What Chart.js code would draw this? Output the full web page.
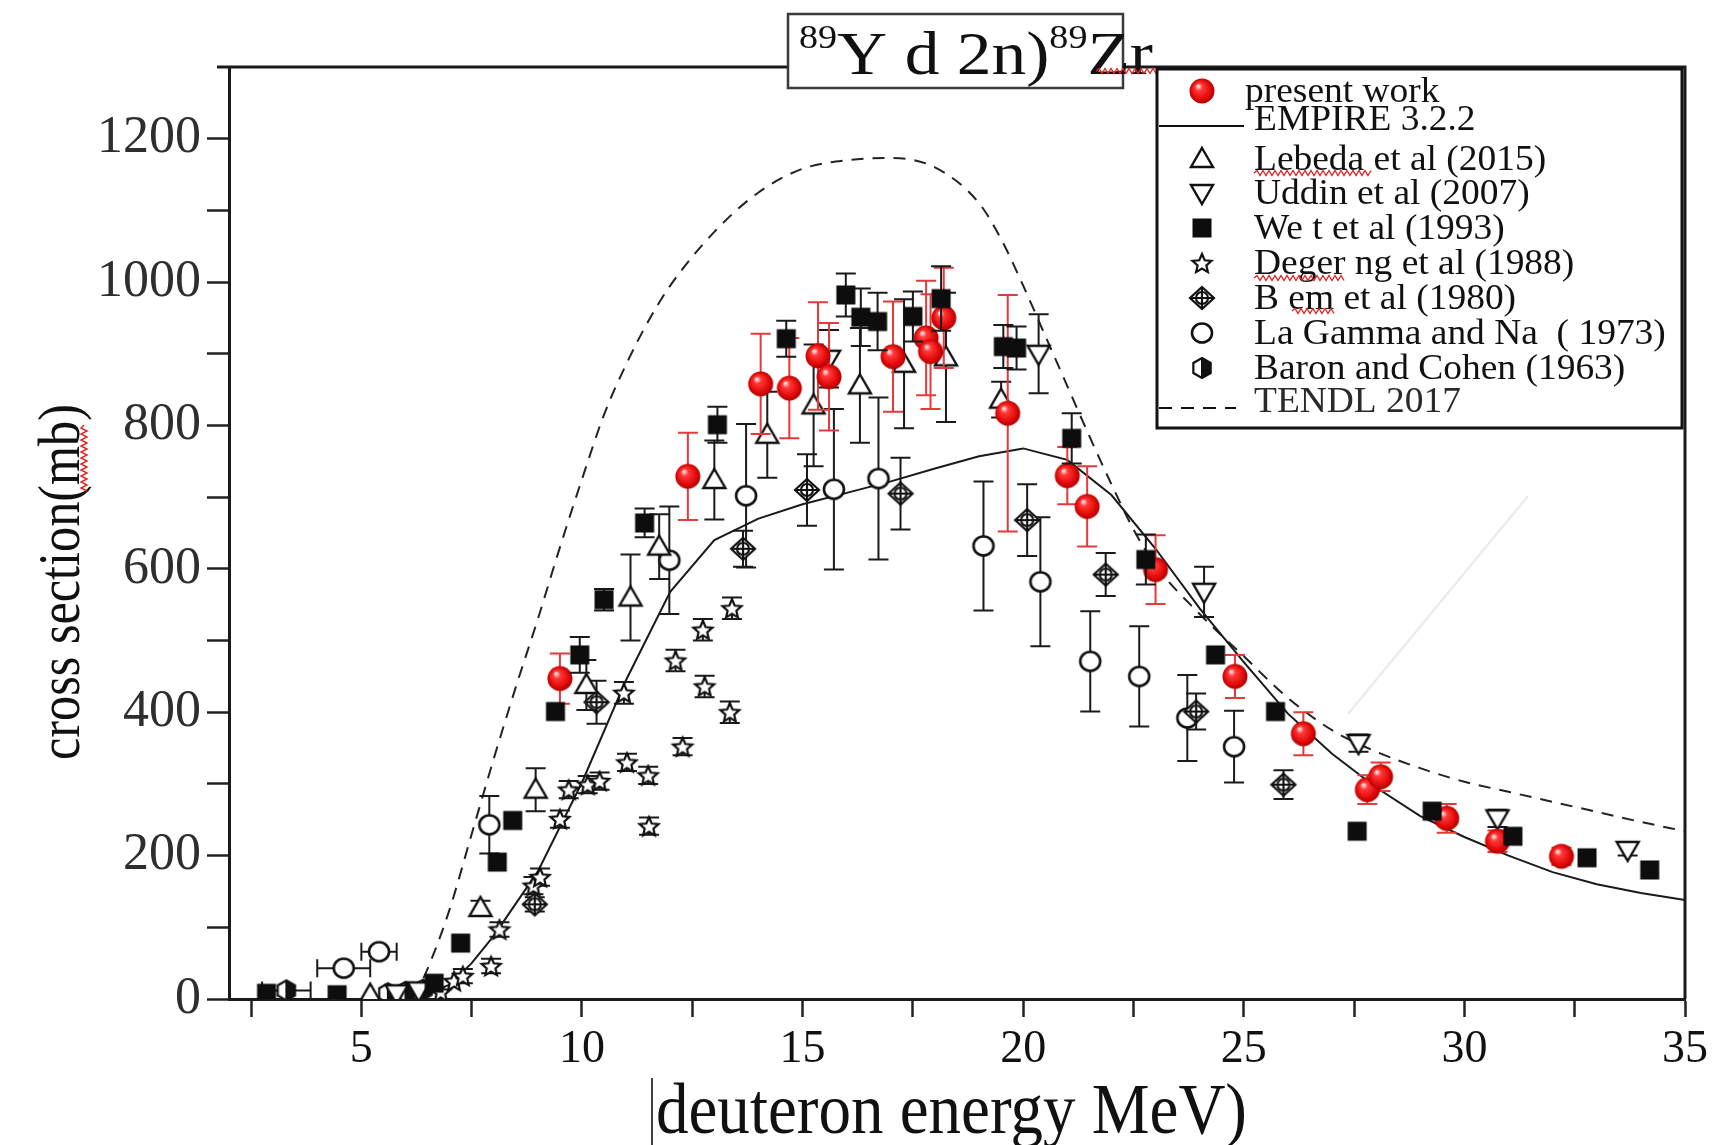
<!DOCTYPE html>
<html>
<head>
<meta charset="utf-8">
<title>89Y(d,2n)89Zr cross section</title>
<script src="https://cdn.jsdelivr.net/npm/chart.js@4.4.1/dist/chart.umd.min.js"></script>
<style>
  html, body { margin: 0; padding: 0; background: #ffffff; }
  canvas { display: block; }
</style>
</head>
<body>
<canvas id="chart" width="1715" height="1145" style="width:1715px;height:1145px"></canvas>
<script>
// ---- axis ticks ----
const xMajorTicks = [5, 10, 15, 20, 25, 30, 35];
const xMinorTicks = [2.5, 7.5, 12.5, 17.5, 22.5, 27.5, 32.5];
const yMajorTicks = [0, 200, 400, 600, 800, 1000, 1200];
const yMinorTicks = [100, 300, 500, 700, 900, 1100];

// ---- present work (deuteron energy MeV, cross section mb, uncertainty mb) ----
const presentE   = [9.5, 12.4, 14.05, 14.7, 15.35, 15.6, 17.05, 17.8, 17.9, 18.2, 19.65, 21.0, 21.45, 23.0, 24.8, 26.35, 27.8, 28.1, 29.6, 30.75, 32.2];
const presentXS  = [447, 729, 858, 852, 897, 868, 896, 922, 903, 950, 817, 730, 687, 599, 450, 370, 292, 310, 252, 220, 199];
const presentErr = [35, 61, 70, 70, 75, 75, 77, 80, 80, 70, 165, 40, 56, 48, 30, 30, 20, 20, 20, 15, 12];

// ---- EMPIRE 3.2.2 calculation ----
const empireE  = [5.5, 6, 6.5, 7, 7.5, 8, 9, 10, 11, 12, 13, 14, 15, 16, 17, 18, 19, 20, 21, 22, 23, 24, 25, 26, 27, 28, 29, 30, 31, 32, 33, 34, 35];
const empireXS = [0, 2, 7, 20, 50, 88, 178, 302, 445, 568, 640, 670, 690, 706, 722, 740, 757, 768, 752, 703, 628, 545, 470, 398, 342, 295, 255, 226, 200, 177, 160, 148, 138];

// ---- TENDL 2017 evaluation ----
const tendlE  = [6.2, 6.5, 7, 7.5, 8, 8.5, 9, 9.5, 10, 10.5, 11, 11.5, 12, 13, 14, 15, 16, 17, 18, 19, 19.5, 20, 20.5, 21, 21.5, 22, 22.5, 23, 24, 25, 26, 27, 28, 29, 30, 31, 32, 33, 34, 35];
const tendlXS = [3, 42, 125, 230, 335, 435, 530, 630, 725, 815, 885, 945, 995, 1070, 1125, 1158, 1170, 1173, 1160, 1110, 1060, 995, 925, 855, 785, 718, 655, 605, 537, 478, 420, 375, 345, 322, 303, 289, 275, 261, 247, 234];

// ---- Lebeda et al (2015) ----
const lebedaE   = [5.2, 7.7, 8.95, 10.1, 11.1, 11.75, 13.0, 14.2, 15.25, 16.3, 17.3, 18.25, 19.5];
const lebedaXS  = [6, 127, 292, 438, 560, 631, 724, 787, 828, 856, 886, 895, 836];
const lebedaErr = [0, 10, 30, 35, 60, 45, 55, 60, 85, 80, 90, 90, 25];

// ---- Uddin et al (2007) ----
const uddinE   = [5.8, 6.3, 15.6, 20.35, 24.1, 27.6, 30.75, 33.7];
const uddinXS  = [8, 12, 893, 900, 568, 357, 252, 208];
const uddinErr = [0, 0, 40, 55, 35, 12, 12, 8];

// ---- Weixt et al (1993) ----
const weixtE   = [2.85, 4.45, 6.65, 7.25, 8.08, 8.43, 9.4, 9.95, 10.5, 11.42, 13.07, 14.63, 15.98, 16.32, 16.7, 17.5, 18.14, 19.55, 19.85, 21.1, 22.78, 24.36, 25.72, 27.57, 29.27, 31.1, 32.78, 34.2];
const weixtXS  = [8, 6, 22, 78, 191, 249, 401, 480, 557, 664, 801, 921, 982, 951, 945, 952, 977, 910, 908, 782, 613, 480, 401, 234, 262, 227, 197, 180];
const weixtErr = [0, 0, 0, 0, 0, 0, 0, 25, 15, 20, 25, 25, 30, 40, 40, 35, 45, 30, 30, 35, 35, 0, 0, 0, 0, 0, 0, 0];

// ---- Degering et al (1988) ----
const degeringE   = [6.8, 7.1, 7.3, 7.94, 8.13, 8.9, 9.05, 9.5, 9.7, 10.13, 10.4, 10.95, 11.02, 11.5, 11.52, 12.12, 12.28, 12.74, 12.78, 13.35, 13.4];
const degeringXS  = [10, 25, 32, 46, 97, 158, 170, 251, 292, 299, 304, 427, 330, 312, 241, 472, 352, 515, 436, 400, 545];
const degeringErr = [0, 0, 10, 10, 10, 12, 12, 12, 12, 12, 12, 15, 12, 12, 12, 15, 12, 15, 15, 15, 15];

// ---- Bem et al (1980) ----
const bemE   = [8.93, 10.33, 13.65, 15.1, 17.22, 20.09, 21.87, 23.92, 25.9];
const bemXS  = [132, 414, 628, 710, 705, 668, 592, 401, 299];
const bemErr = [10, 30, 25, 50, 50, 50, 30, 25, 20];

// ---- La Gamma and Nagatani (1973) ----
const laGammaE    = [4.6, 5.4, 7.9, 11.98, 13.72, 15.71, 16.72, 19.1, 20.39, 21.52, 22.63, 23.72, 24.78];
const laGammaXS   = [43, 66, 243, 612, 702, 711, 726, 632, 582, 471, 450, 392, 352];
const laGammaErr  = [0, 0, 40, 75, 100, 112, 113, 90, 90, 70, 70, 60, 50];
const laGammaEErr = [0.6, 0.4, 0, 0, 0, 0, 0, 0, 0, 0, 0, 0, 0];

// ---- Baron and Cohen (1963) ----
const baronE    = [3.3, 5.6, 6.0, 6.4];
const baronXS   = [12, 8, 10, 13];
const baronEErr = [0.55, 0, 0, 0];

const SERIF = '"Liberation Serif", "Times New Roman", Times, serif';

function toPoints(xs, ys) { return xs.map((x, i) => ({ x: x, y: ys[i] })); }

// ---- marker images ----
function makeMarker(size, draw) {
  const c = document.createElement('canvas');
  c.width = size; c.height = size;
  const g = c.getContext('2d');
  g.translate(size / 2, size / 2);
  draw(g);
  return c;
}
const sphereMarker = makeMarker(28, g => {
  const grad = g.createRadialGradient(-4, -5, 1, 0, 0, 13);
  grad.addColorStop(0, '#ffd6d6');
  grad.addColorStop(0.22, '#ff3a3a');
  grad.addColorStop(0.7, '#e40a0a');
  grad.addColorStop(1, '#a80000');
  g.fillStyle = grad;
  g.beginPath(); g.arc(0, 0, 12.5, 0, Math.PI * 2); g.fill();
});
const triUpMarker = makeMarker(28, g => {
  g.beginPath(); g.moveTo(0, -11); g.lineTo(11, 8); g.lineTo(-11, 8); g.closePath();
  g.fillStyle = '#fff'; g.fill();
  g.strokeStyle = '#111'; g.lineWidth = 2.4; g.lineJoin = 'miter'; g.stroke();
});
const triDownMarker = makeMarker(28, g => {
  g.beginPath(); g.moveTo(0, 11); g.lineTo(11, -8); g.lineTo(-11, -8); g.closePath();
  g.fillStyle = '#fff'; g.fill();
  g.strokeStyle = '#111'; g.lineWidth = 2.4; g.stroke();
});
const squareMarker = makeMarker(22, g => {
  g.fillStyle = '#0d0d0d'; g.fillRect(-9.5, -9.5, 19, 19);
});
const starMarker = makeMarker(26, g => {
  g.beginPath();
  for (let k = 0; k < 10; k++) {
    const r = k % 2 === 0 ? 10 : 4.6;
    const a = -Math.PI / 2 + k * Math.PI / 5;
    const px = r * Math.cos(a), py = r * Math.sin(a) + 1;
    if (k === 0) g.moveTo(px, py); else g.lineTo(px, py);
  }
  g.closePath();
  g.fillStyle = '#fff'; g.fill();
  g.strokeStyle = '#111'; g.lineWidth = 2.2; g.stroke();
});
const diamondMarker = makeMarker(28, g => {
  g.strokeStyle = '#111'; g.lineWidth = 2.2;
  g.beginPath(); g.moveTo(0, -11); g.lineTo(12, 0); g.lineTo(0, 11); g.lineTo(-12, 0); g.closePath();
  g.fillStyle = '#fff'; g.fill(); g.stroke();
  g.beginPath(); g.arc(0, 0, 6, 0, Math.PI * 2); g.stroke();
  g.beginPath(); g.moveTo(-12, 0); g.lineTo(12, 0); g.moveTo(0, -11); g.lineTo(0, 11); g.stroke();
});
const circleMarker = makeMarker(26, g => {
  g.beginPath(); g.ellipse(0, 0, 10, 9.5, 0, 0, Math.PI * 2);
  g.fillStyle = '#fff'; g.fill();
  g.strokeStyle = '#111'; g.lineWidth = 2.6; g.stroke();
});
const halfMarker = makeMarker(26, g => {
  g.beginPath();
  for (let k = 0; k < 6; k++) {
    const a = -Math.PI / 2 + k * Math.PI / 3;
    const px = 10 * Math.cos(a), py = 10 * Math.sin(a);
    if (k === 0) g.moveTo(px, py); else g.lineTo(px, py);
  }
  g.closePath();
  g.fillStyle = '#fff'; g.fill();
  g.save(); g.clip();
  g.fillStyle = '#111'; g.fillRect(-1, -11, 12, 22);
  g.restore();
  g.strokeStyle = '#111'; g.lineWidth = 2.2; g.stroke();
});

// ---- error bars drawn through the chart scales ----
const errorBarPlugin = {
  id: 'errorBars',
  beforeDatasetDraw(chart, args) {
    const ds = chart.data.datasets[args.index];
    if (!ds.yErr && !ds.xErr) return;
    const xs = chart.scales.x, ys = chart.scales.y, ctx = chart.ctx;
    ctx.save();
    ctx.strokeStyle = ds.errColor || '#1a1a1a';
    ctx.lineWidth = 2;
    const cap = 10;
    ds.data.forEach((p, i) => {
      const px = xs.getPixelForValue(p.x);
      const py = ys.getPixelForValue(p.y);
      const e = ds.yErr ? ds.yErr[i] : 0;
      if (e > 0) {
        const t = ys.getPixelForValue(p.y + e), b = ys.getPixelForValue(p.y - e);
        ctx.beginPath();
        ctx.moveTo(px, t); ctx.lineTo(px, b);
        ctx.moveTo(px - cap, t); ctx.lineTo(px + cap, t);
        ctx.moveTo(px - cap, b); ctx.lineTo(px + cap, b);
        ctx.stroke();
      }
      const xe = ds.xErr ? ds.xErr[i] : 0;
      if (xe > 0) {
        const l = xs.getPixelForValue(p.x - xe), r = xs.getPixelForValue(p.x + xe);
        ctx.beginPath();
        ctx.moveTo(l, py); ctx.lineTo(r, py);
        ctx.moveTo(l, py - 9); ctx.lineTo(l, py + 9);
        ctx.moveTo(r, py - 9); ctx.lineTo(r, py + 9);
        ctx.stroke();
      }
    });
    ctx.restore();
  }
};

// ---- helpers for stretched serif text and spell-check squiggles ----
function stretchedText(ctx, text, x, y, size, sx, align) {
  ctx.save();
  ctx.font = size + 'px ' + SERIF;
  ctx.textBaseline = 'alphabetic';
  ctx.textAlign = 'left';
  const w = ctx.measureText(text).width * sx;
  const x0 = align === 'center' ? x - w / 2 : x;
  ctx.translate(x0, y);
  ctx.scale(sx, 1);
  ctx.fillText(text, 0, 0);
  ctx.restore();
}
function squiggleH(ctx, x0, x1, y) {
  ctx.save();
  ctx.strokeStyle = '#e02424'; ctx.lineWidth = 1.4;
  ctx.beginPath();
  let up = true;
  ctx.moveTo(x0, y);
  for (let x = x0 + 3; x <= x1; x += 3) { ctx.lineTo(x, up ? y - 2.5 : y + 2.5); up = !up; }
  ctx.stroke();
  ctx.restore();
}
function squiggleV(ctx, x, y0, y1) {
  ctx.save();
  ctx.strokeStyle = '#e02424'; ctx.lineWidth = 1.4;
  ctx.beginPath();
  let left = true;
  ctx.moveTo(x, y0);
  for (let y = y0 + 3; y <= y1; y += 3) { ctx.lineTo(left ? x - 3 : x + 3, y); left = !left; }
  ctx.stroke();
  ctx.restore();
}

// ---- frame, title box, legend box and axis titles ----
const legendRows = [
  { label: 'present work', kind: 'marker', marker: sphereMarker, y: 91, tx: 1245 },
  { label: 'EMPIRE 3.2.2', kind: 'solid', y: 119, tx: 1254 },
  { label: 'Lebeda et al (2015)', kind: 'marker', marker: triUpMarker, y: 159, tx: 1254 },
  { label: 'Uddin et al (2007)', kind: 'marker', marker: triDownMarker, y: 193, tx: 1254 },
  { label: 'We t et al (1993)', kind: 'marker', marker: squareMarker, y: 228, tx: 1254 },
  { label: 'Deger ng et al (1988)', kind: 'marker', marker: starMarker, y: 263, tx: 1254 },
  { label: 'B em et al (1980)', kind: 'marker', marker: diamondMarker, y: 298, tx: 1254 },
  { label: 'La Gamma and Na  ( 1973)', kind: 'marker', marker: circleMarker, y: 333, tx: 1254 },
  { label: 'Baron and Cohen (1963)', kind: 'marker', marker: halfMarker, y: 368, tx: 1254 },
  { label: 'TENDL 2017', kind: 'dash', y: 401, tx: 1254 }
];

const decorPlugin = {
  id: 'decor',
  afterDraw(chart) {
    const ctx = chart.ctx, a = chart.chartArea;
    ctx.save();

    // top and right frame lines
    ctx.strokeStyle = '#1a1a1a'; ctx.lineWidth = 3;
    ctx.beginPath();
    ctx.moveTo(a.left - 12, a.top); ctx.lineTo(a.right, a.top); ctx.lineTo(a.right, a.bottom);
    ctx.stroke();

    // faint streak across the plot
    ctx.strokeStyle = 'rgba(0,0,0,0.08)'; ctx.lineWidth = 2.5;
    ctx.beginPath(); ctx.moveTo(1348, 714); ctx.lineTo(1528, 496); ctx.stroke();

    // title box
    ctx.fillStyle = '#ffffff';
    ctx.fillRect(788, 14, 335, 74);
    ctx.strokeStyle = '#3a3a3a'; ctx.lineWidth = 2.5;
    ctx.strokeRect(788, 14, 335, 74);
    const parts = [['89', 34, 48], ['Y d 2n)', 62, 74], ['89', 34, 48], ['Zr', 62, 74]];
    let total = 0;
    parts.forEach(p => { ctx.font = p[1] + 'px ' + SERIF; p.w = ctx.measureText(p[0]).width; total += p.w; });
    const tsx = 354 / total;
    ctx.save();
    ctx.translate(799, 0); ctx.scale(tsx, 1);
    ctx.fillStyle = '#111'; ctx.textBaseline = 'alphabetic'; ctx.textAlign = 'left';
    let tx = 0;
    parts.forEach(p => { ctx.font = p[1] + 'px ' + SERIF; ctx.fillText(p[0], tx, p[2]); tx += p.w; });
    ctx.restore();
    squiggleH(ctx, 1096, 1156, 71);

    // legend box
    ctx.fillStyle = '#ffffff';
    ctx.fillRect(1157, 69, 525, 359);
    ctx.strokeStyle = '#111'; ctx.lineWidth = 3;
    ctx.strokeRect(1157, 69, 525, 359);
    legendRows.forEach(r => {
      if (r.kind === 'marker') {
        ctx.drawImage(r.marker, 1202 - r.marker.width / 2, r.y - r.marker.height / 2);
      } else {
        ctx.save();
        ctx.strokeStyle = '#111'; ctx.lineWidth = 2;
        if (r.kind === 'dash') ctx.setLineDash([13, 9]);
        ctx.beginPath();
        ctx.moveTo(1159, r.y + 7); ctx.lineTo(r.kind === 'dash' ? 1236 : 1244, r.y + 7);
        ctx.stroke();
        ctx.restore();
      }
      ctx.fillStyle = r.kind === 'dash' ? '#2a2a2a' : '#111';
      stretchedText(ctx, r.label, r.tx, r.y + 11, 35, 1.07, 'left');
    });
    squiggleH(ctx, 1254, 1371, 173);
    squiggleH(ctx, 1254, 1344, 278);
    squiggleH(ctx, 1292, 1334, 311);

    // y axis title, tall condensed serif
    ctx.fillStyle = '#111';
    ctx.save();
    ctx.translate(79, 582); ctx.rotate(-Math.PI / 2);
    ctx.font = '60px ' + SERIF;
    const yw = ctx.measureText('cross section(mb)').width;
    ctx.scale(356 / yw, 1);
    ctx.textAlign = 'center'; ctx.textBaseline = 'alphabetic';
    ctx.fillText('cross section(mb)', 0, 0);
    ctx.restore();
    squiggleV(ctx, 84, 425, 493);

    // x axis title with the caret bar in front of it
    ctx.font = '72px ' + SERIF;
    const xw = ctx.measureText('deuteron energy MeV)').width;
    stretchedText(ctx, 'deuteron energy MeV)', 656, 1133, 72, 591 / xw, 'left');
    ctx.strokeStyle = '#111'; ctx.lineWidth = 1.6;
    ctx.beginPath(); ctx.moveTo(652, 1078); ctx.lineTo(652, 1145); ctx.stroke();

    ctx.restore();
  }
};

Chart.defaults.font.family = SERIF;
Chart.defaults.color = '#111';

const ctx = document.getElementById('chart').getContext('2d');
new Chart(ctx, {
  type: 'scatter',
  data: {
    datasets: [
      {
        label: 'TENDL 2017', data: toPoints(tendlE, tendlXS), showLine: true,
        borderColor: '#222', borderWidth: 2, borderDash: [12, 9], pointRadius: 0,
        cubicInterpolationMode: 'monotone', order: 20
      },
      {
        label: 'EMPIRE 3.2.2', data: toPoints(empireE, empireXS), showLine: true,
        borderColor: '#1a1a1a', borderWidth: 2, pointRadius: 0, tension: 0, order: 19
      },
      { label: 'La Gamma and Na ( 1973)', data: toPoints(laGammaE, laGammaXS), yErr: laGammaErr, xErr: laGammaEErr,
        pointStyle: circleMarker, pointRadius: 5, order: 9 },
      { label: 'B em et al (1980)', data: toPoints(bemE, bemXS), yErr: bemErr,
        pointStyle: diamondMarker, pointRadius: 5, order: 8 },
      { label: 'Deger ng et al (1988)', data: toPoints(degeringE, degeringXS), yErr: degeringErr,
        pointStyle: starMarker, pointRadius: 5, order: 7 },
      { label: 'Baron and Cohen (1963)', data: toPoints(baronE, baronXS), xErr: baronEErr,
        pointStyle: halfMarker, pointRadius: 5, order: 6 },
      { label: 'Uddin et al (2007)', data: toPoints(uddinE, uddinXS), yErr: uddinErr,
        pointStyle: triDownMarker, pointRadius: 5, order: 5 },
      { label: 'Lebeda et al (2015)', data: toPoints(lebedaE, lebedaXS), yErr: lebedaErr,
        pointStyle: triUpMarker, pointRadius: 5, order: 4 },
      { label: 'present work', data: toPoints(presentE, presentXS), yErr: presentErr, errColor: '#e33a3a',
        pointStyle: sphereMarker, pointRadius: 5, order: 2 },
      { label: 'We t et al (1993)', data: toPoints(weixtE, weixtXS), yErr: weixtErr,
        pointStyle: squareMarker, pointRadius: 5, order: 1 }
    ]
  },
  options: {
    responsive: false,
    animation: false,
    events: [],
    layout: { padding: { left: 0, top: 67, right: 30, bottom: 0 } },
    plugins: { legend: { display: false }, title: { display: false }, tooltip: { enabled: false } },
    scales: {
      x: {
        type: 'linear', min: 2, max: 35,
        afterBuildTicks: s => { s.ticks = xMinorTicks.concat(xMajorTicks).sort((p, q) => p - q).map(v => ({ value: v })); },
        afterFit: s => { s.height = 146; },
        ticks: {
          autoSkip: false, maxRotation: 0, padding: 5, color: '#111',
          font: { size: 46, family: SERIF },
          callback: v => (xMajorTicks.includes(v) ? String(v) : '')
        },
        grid: { drawOnChartArea: false, drawTicks: true, tickLength: 18, tickWidth: 2.5, tickColor: '#222' },
        border: { display: true, width: 3, color: '#1a1a1a' }
      },
      y: {
        type: 'linear', min: 0, max: 1300,
        afterBuildTicks: s => { s.ticks = yMinorTicks.concat(yMajorTicks).sort((p, q) => p - q).map(v => ({ value: v })); },
        afterFit: s => { s.width = 229; },
        ticks: {
          autoSkip: false, padding: 6, color: '#2e2e2e',
          font: { size: 52, family: SERIF },
          callback: v => (yMajorTicks.includes(v) ? String(v) : '')
        },
        grid: { drawOnChartArea: false, drawTicks: true, tickLength: 22, tickWidth: 2.5, tickColor: '#222' },
        border: { display: true, width: 3, color: '#1a1a1a' }
      }
    }
  },
  plugins: [errorBarPlugin, decorPlugin]
});
</script>
</body>
</html>
